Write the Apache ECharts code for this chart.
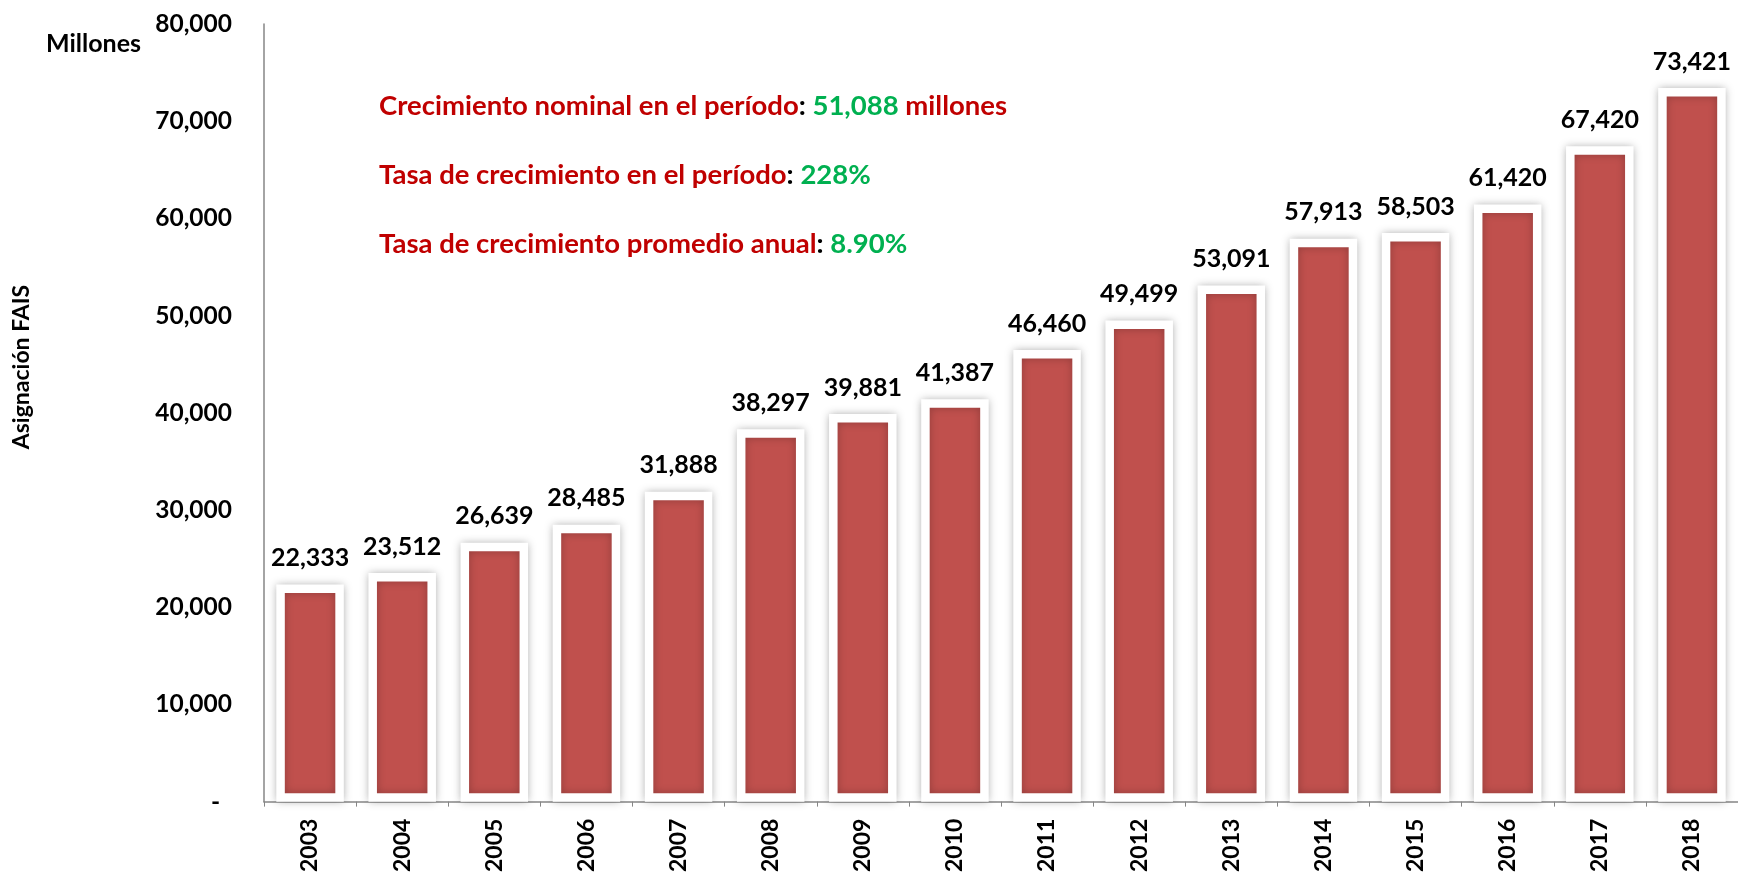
<!DOCTYPE html>
<html>
<head>
<meta charset="utf-8">
<script src="https://cdn.jsdelivr.net/npm/echarts@6/dist/echarts.min.js"></script>
<style>
html,body{margin:0;padding:0;background:#fff;}
#chart{width:1738px;height:875px;}
</style>
</head>
<body>
<div id="chart"></div>
<script>
const years = ['2003','2004','2005','2006','2007','2008','2009','2010','2011','2012','2013','2014','2015','2016','2017','2018'];
const values = [22333, 23512, 26639, 28485, 31888, 38297, 39881, 41387, 46460, 49499, 53091, 57913, 58503, 61420, 67420, 73421];
const yTicks = [0, 10000, 20000, 30000, 40000, 50000, 60000, 70000, 80000];
const yAxisTitle = 'Asignación FAIS';
const unitLabel = 'Millones';
const notes = [
  ['Crecimiento nominal en el período', '51,088', ' millones'],
  ['Tasa de crecimiento en el período', '228%', ''],
  ['Tasa de crecimiento promedio anual', '8.90%', '']
];

const FONT = 'Lato';
const RED = '#C00000', GREEN = '#00B050';

function fmt(v){ return v === 0 ? '-  ' : v.toLocaleString('en-US'); }

const noteGraphics = notes.map((n, i) => ({
  type: 'text',
  left: 379,
  top: 92 + i * 69,
  style: {
    text: '{r|' + n[0] + '}{k|: }{g|' + n[1] + '}' + (n[2] ? '{r|' + n[2] + '}' : ''),
    rich: {
      r: {fill: RED, fontFamily: FONT, fontWeight: 'bold', fontSize: 27.5},
      k: {fill: '#000', fontFamily: FONT, fontWeight: 'bold', fontSize: 27.5},
      g: {fill: GREEN, fontFamily: FONT, fontWeight: 'bold', fontSize: 27.5}
    }
  }
}));

const chart = echarts.init(document.getElementById('chart'));
chart.setOption({
  backgroundColor: '#fff',
  animation: false,
  grid: {left: 264, top: 24, width: 1480, bottom: 73, containLabel: false},
  xAxis: {
    type: 'category',
    data: years,
    axisLine: {lineStyle: {color: '#868686', width: 1.5}},
    axisTick: {show: true, length: 5, lineStyle: {color: '#868686'}},
    axisLabel: {rotate: 90, margin: 17, color: '#000', fontFamily: FONT, fontWeight: 'bold', fontSize: 23}
  },
  yAxis: {
    type: 'value',
    min: yTicks[0],
    max: yTicks[yTicks.length - 1],
    interval: yTicks[1] - yTicks[0],
    splitLine: {show: false},
    axisLine: {show: true, lineStyle: {color: '#868686', width: 1.5}},
    axisTick: {show: false},
    axisLabel: {margin: 32, color: '#000', fontFamily: FONT, fontWeight: 'bold', fontSize: 24.5, formatter: fmt}
  },
  graphic: [
    {type: 'text', left: 46, top: 31, style: {text: unitLabel, fill: '#000', fontFamily: FONT, fontWeight: 'bold', fontSize: 25}},
    {type: 'text', x: 22, y: 367, rotation: Math.PI / 2,
      style: {text: yAxisTitle, fill: '#000', fontFamily: FONT, fontWeight: 'bold', fontSize: 23, align: 'center', verticalAlign: 'middle'}}
  ].concat(noteGraphics),
  series: [{
    type: 'bar',
    data: values,
    barWidth: 67.5,
    itemStyle: {
      color: '#C0504D',
      borderColor: '#ffffff',
      borderWidth: 8.5,
      shadowBlur: 8,
      shadowColor: 'rgba(0,0,0,0.25)'
    },
    label: {
      show: true,
      position: 'top',
      distance: 14,
      color: '#000',
      fontFamily: FONT,
      fontWeight: 'bold',
      fontSize: 25,
      formatter: p => fmt(p.value)
    }
  }]
});
</script>
</body>
</html>
